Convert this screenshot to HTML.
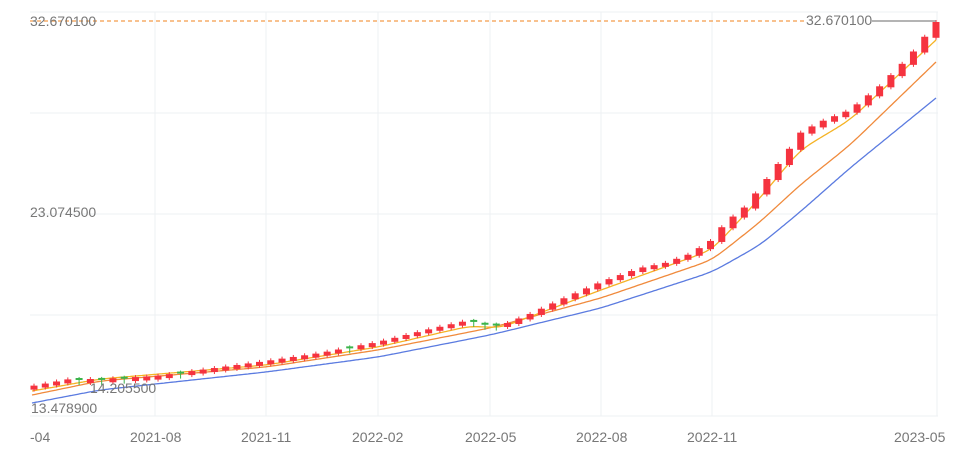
<!DOCTYPE html><html><head><style>body{margin:0;background:#fff}svg{display:block;font-family:"Liberation Sans",sans-serif}</style></head><body>
<svg id="s" width="960" height="455" xmlns="http://www.w3.org/2000/svg">
<g stroke="#eef0f3" stroke-width="1">
<line x1="30" y1="12" x2="938" y2="12"/><line x1="30" y1="113" x2="938" y2="113"/><line x1="30" y1="214" x2="938" y2="214"/><line x1="30" y1="315" x2="938" y2="315"/><line x1="30" y1="416" x2="938" y2="416"/>
<line x1="155" y1="12" x2="155" y2="416"/><line x1="266" y1="12" x2="266" y2="416"/><line x1="378" y1="12" x2="378" y2="416"/><line x1="490" y1="12" x2="490" y2="416"/><line x1="601" y1="12" x2="601" y2="416"/><line x1="712" y1="12" x2="712" y2="416"/><line x1="937" y1="12" x2="937" y2="416"/>
</g>
<g id="c"></g>
<line x1="30" y1="21" x2="805" y2="21" stroke="#f39c4a" stroke-width="1.2" stroke-dasharray="4,3"/>
<line x1="872" y1="21" x2="936" y2="21" stroke="#888" stroke-width="1.2"/>
<g font-size="14" fill="#777">
<text x="30" y="26">32.670100</text><text x="806" y="25">32.670100</text>
<text x="30" y="217">23.074500</text>
<text x="90" y="393">14.205500</text>
<text x="31" y="413">13.478900</text>
<text x="30" y="442">-04</text><text x="130" y="442">2021-08</text><text x="241" y="442">2021-11</text><text x="352" y="442">2022-02</text><text x="465" y="442">2022-05</text><text x="576" y="442">2022-08</text><text x="687" y="442">2022-11</text><text x="894" y="442">2023-05</text>
</g>
</svg>
<script>
function interp(p,x){for(let i=0;i<p.length-1;i++){if(x<=p[i+1][0]){const t=(x-p[i][0])/(p[i+1][0]-p[i][0]);return p[i][1]+t*(p[i+1][1]-p[i][1]);}}return p[p.length-1][1];}
const C=[[32,386],[70,379],[100,379],[155,376],[200,370],[266,361],[320,353],[378,342],[430,329],[470,320],[490,325],[505,324],[530,314],[560,300],[601,282],[640,268],[665,263],[690,254],[712,240],[725,223],[745,207],[770,175],[790,148],[800,133],[820,122],[850,110],[880,86],[910,56],[936,22]];
const B=[[32,403],[100,390],[266,372],[378,357],[490,335],[601,308],[712,272],[760,245],[800,212],[850,168],[936,98]];
const O=[[32,395],[100,381],[266,367],[378,350],[490,328],[601,298],[712,260],[760,222],[800,185],[850,145],[936,62]];
const Y=[[32,391],[100,379],[266,365],[378,347],[470,326],[500,328],[601,290],[712,250],[760,198],[800,150],[850,120],[936,40]];
const ns="http://www.w3.org/2000/svg",g=document.getElementById('c');
function line(p,col){let pts=[];for(let x=32;x<=936;x+=2)pts.push([x,interp(p,x)]);
for(let k=0;k<4;k++){pts=pts.map((q,i)=>{if(i<3||i>pts.length-4)return q;let s=0;for(let j=-3;j<=3;j++)s+=pts[i+j][1];return [q[0],s/7];});}
let d='';pts.forEach(q=>d+=(d?'L':'M')+q[0]+' '+q[1].toFixed(1));const e=document.createElementNS(ns,'path');e.setAttribute('d',d);e.setAttribute('fill','none');e.setAttribute('stroke',col);e.setAttribute('stroke-width','1.3');g.appendChild(e);}
line(B,'#5b7be0');line(O,'#f08a3c');line(Y,'#f5b324');
const green=[75,100,125,180,345,475,485,498,660,806];
const n=81;for(let i=0;i<n;i++){const x=34+i*(936-34)/(n-1);const yc=interp(C,x),yo=interp(C,x-11.3);let h=Math.max(4,Math.abs(yo-yc)+1);const gr=green.some(v=>Math.abs(v-x)<5);
const col=gr?'#3cb44b':'#f5333f';
const l=document.createElementNS(ns,'line');l.setAttribute('x1',x);l.setAttribute('x2',x);l.setAttribute('y1',yc-2);l.setAttribute('y2',yc+h+2);l.setAttribute('stroke',col);g.appendChild(l);
const r=document.createElementNS(ns,'rect');r.setAttribute('x',x-3.5);r.setAttribute('y',yc-(gr?1:0));r.setAttribute('width',7);r.setAttribute('height',gr?2:h);r.setAttribute('fill',col);g.appendChild(r);}
</script>
</body></html>
